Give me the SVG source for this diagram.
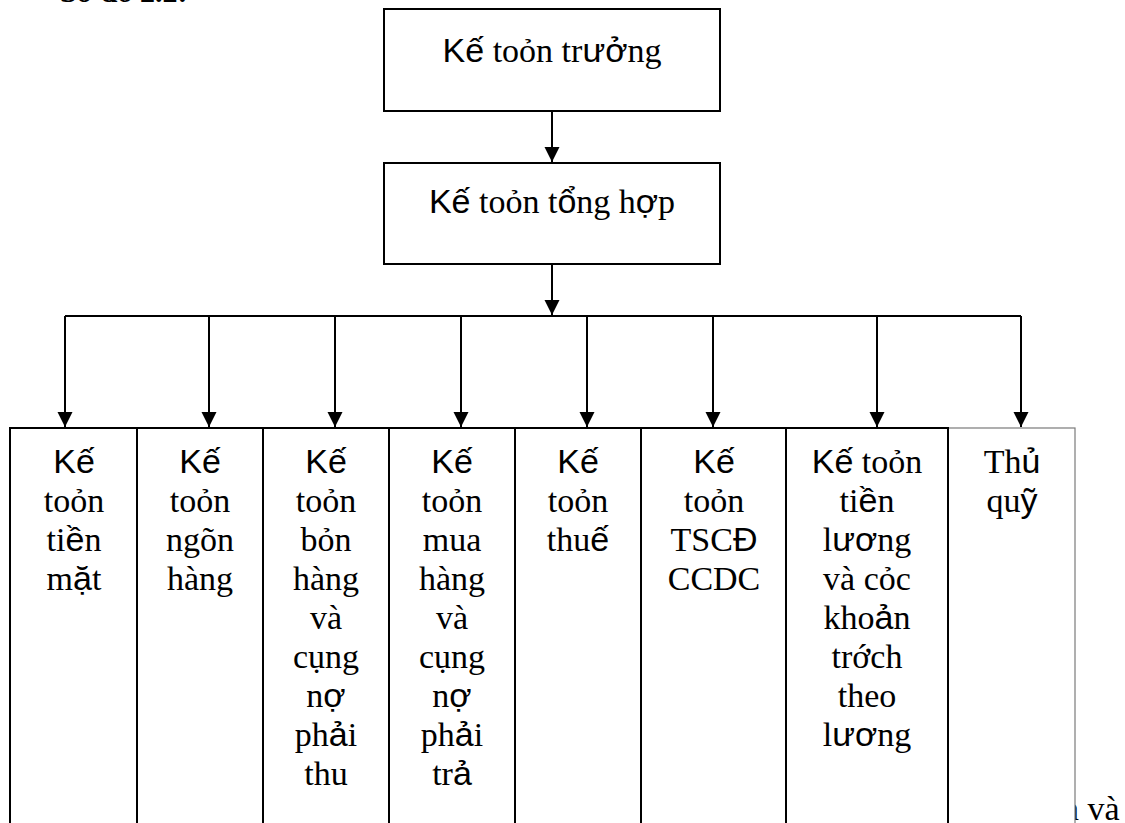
<svg xmlns="http://www.w3.org/2000/svg" width="1125" height="823" viewBox="0 0 1125 823">
  <style>
    .box { fill: #ffffff; stroke: #000000; stroke-width: 2; }
    .box-light { fill: #ffffff; stroke: #7a7a7a; stroke-width: 1.2; }
    .wire { fill: none; stroke: #000000; stroke-width: 2; }
    .lbl { font-family: "Liberation Serif", "Times New Roman", serif; font-size: 34px; fill: #000000; text-anchor: middle; }
    .body { font-family: "Liberation Serif", "Times New Roman", serif; font-size: 34px; fill: #000000; }
    .title { font-family: "Liberation Serif", "Times New Roman", serif; font-size: 30px; font-weight: bold; fill: #000000; }
    .a { font-family: "Liberation Sans", Arial, sans-serif; }
  </style>
  <defs>
    <marker id="arrow" markerUnits="userSpaceOnUse" markerWidth="16" markerHeight="16" refX="15" refY="7.5" orient="auto">
      <path d="M0,0 L15,7.5 L0,15 Z" fill="#000000"/>
    </marker>
  </defs>

  <rect width="1125" height="823" fill="#ffffff"/>

  <!-- caption line above the chart, clipped by the page edge -->
  <text class="title" x="60" y="2">Sơ đồ 2.2:</text>

  <!-- running text behind the last column -->
  <text class="body" x="1062" y="820">n và</text>

  <!-- connectors -->
  <g id="connectors">
    <line class="wire" x1="552" y1="111" x2="552" y2="162" marker-end="url(#arrow)"/>
    <line class="wire" x1="552" y1="264" x2="552" y2="315" marker-end="url(#arrow)"/>
    <line class="wire" x1="65" y1="316" x2="1021" y2="316"/>
    <line class="wire" x1="65" y1="316" x2="65" y2="427" marker-end="url(#arrow)"/>
    <line class="wire" x1="209" y1="316" x2="209" y2="427" marker-end="url(#arrow)"/>
    <line class="wire" x1="335" y1="316" x2="335" y2="427" marker-end="url(#arrow)"/>
    <line class="wire" x1="461" y1="316" x2="461" y2="427" marker-end="url(#arrow)"/>
    <line class="wire" x1="587" y1="316" x2="587" y2="427" marker-end="url(#arrow)"/>
    <line class="wire" x1="713" y1="316" x2="713" y2="427" marker-end="url(#arrow)"/>
    <line class="wire" x1="877" y1="316" x2="877" y2="427" marker-end="url(#arrow)"/>
    <line class="wire" x1="1021" y1="316" x2="1021" y2="427" marker-end="url(#arrow)"/>
  </g>

  <!-- chief accountant -->
  <g id="ke-toan-truong">
    <rect class="box" x="384" y="9" width="336" height="102"/>
    <text class="lbl" x="552" y="62"><tspan class="a">Kế</tspan> toỏn tr<tspan class="a">ưở</tspan>ng</text>
  </g>

  <!-- general accountant -->
  <g id="ke-toan-tong-hop">
    <rect class="box" x="384" y="163" width="336" height="101"/>
    <text class="lbl" x="552" y="213"><tspan class="a">Kế</tspan> toỏn t<tspan class="a">ổ</tspan>ng h<tspan class="a">ợ</tspan>p</text>
  </g>

  <!-- cashier (lighter frame) -->
  <g id="thu-quy">
    <rect class="box-light" x="948" y="428" width="127" height="480"/>
    <text class="lbl" x="1012" y="473">Th<tspan class="a">ủ</tspan></text>
    <text class="lbl" x="1012" y="512">qu<tspan class="a">ỹ</tspan></text>
  </g>

  <g id="ke-toan-tien-mat">
    <rect class="box" x="10" y="428" width="127" height="480"/>
    <text class="lbl" x="74" y="473"><tspan class="a">Kế</tspan></text>
    <text class="lbl" x="74" y="512">toỏn</text>
    <text class="lbl" x="74" y="551">ti<tspan class="a">ề</tspan>n</text>
    <text class="lbl" x="74" y="590">m<tspan class="a">ặ</tspan>t</text>
  </g>

  <g id="ke-toan-ngan-hang">
    <rect class="box" x="137" y="428" width="126" height="480"/>
    <text class="lbl" x="200" y="473"><tspan class="a">Kế</tspan></text>
    <text class="lbl" x="200" y="512">toỏn</text>
    <text class="lbl" x="200" y="551">ngõn</text>
    <text class="lbl" x="200" y="590">hàng</text>
  </g>

  <g id="ke-toan-ban-hang">
    <rect class="box" x="263" y="428" width="126" height="480"/>
    <text class="lbl" x="326" y="473"><tspan class="a">Kế</tspan></text>
    <text class="lbl" x="326" y="512">toỏn</text>
    <text class="lbl" x="326" y="551">bỏn</text>
    <text class="lbl" x="326" y="590">hàng</text>
    <text class="lbl" x="326" y="629">và</text>
    <text class="lbl" x="326" y="668">cụng</text>
    <text class="lbl" x="326" y="707">n<tspan class="a">ợ</tspan></text>
    <text class="lbl" x="326" y="746">ph<tspan class="a">ả</tspan>i</text>
    <text class="lbl" x="326" y="785">thu</text>
  </g>

  <g id="ke-toan-mua-hang">
    <rect class="box" x="389" y="428" width="126" height="480"/>
    <text class="lbl" x="452" y="473"><tspan class="a">Kế</tspan></text>
    <text class="lbl" x="452" y="512">toỏn</text>
    <text class="lbl" x="452" y="551">mua</text>
    <text class="lbl" x="452" y="590">hàng</text>
    <text class="lbl" x="452" y="629">và</text>
    <text class="lbl" x="452" y="668">cụng</text>
    <text class="lbl" x="452" y="707">n<tspan class="a">ợ</tspan></text>
    <text class="lbl" x="452" y="746">ph<tspan class="a">ả</tspan>i</text>
    <text class="lbl" x="452" y="785">tr<tspan class="a">ả</tspan></text>
  </g>

  <g id="ke-toan-thue">
    <rect class="box" x="515" y="428" width="126" height="480"/>
    <text class="lbl" x="578" y="473"><tspan class="a">Kế</tspan></text>
    <text class="lbl" x="578" y="512">toỏn</text>
    <text class="lbl" x="578" y="551">thu<tspan class="a">ế</tspan></text>
  </g>

  <g id="ke-toan-tscd">
    <rect class="box" x="641" y="428" width="145" height="480"/>
    <text class="lbl" x="714" y="473"><tspan class="a">Kế</tspan></text>
    <text class="lbl" x="714" y="512">toỏn</text>
    <text class="lbl" x="714" y="551">TSC<tspan class="a">Đ</tspan></text>
    <text class="lbl" x="714" y="590">CCDC</text>
  </g>

  <g id="ke-toan-tien-luong">
    <rect class="box" x="786" y="428" width="162" height="480"/>
    <text class="lbl" x="867" y="473"><tspan class="a">Kế</tspan> toỏn</text>
    <text class="lbl" x="867" y="512">ti<tspan class="a">ề</tspan>n</text>
    <text class="lbl" x="867" y="551">l<tspan class="a">ươ</tspan>ng</text>
    <text class="lbl" x="867" y="590">và cỏc</text>
    <text class="lbl" x="867" y="629">kho<tspan class="a">ả</tspan>n</text>
    <text class="lbl" x="867" y="668">trớch</text>
    <text class="lbl" x="867" y="707">theo</text>
    <text class="lbl" x="867" y="746">l<tspan class="a">ươ</tspan>ng</text>
  </g>
</svg>
